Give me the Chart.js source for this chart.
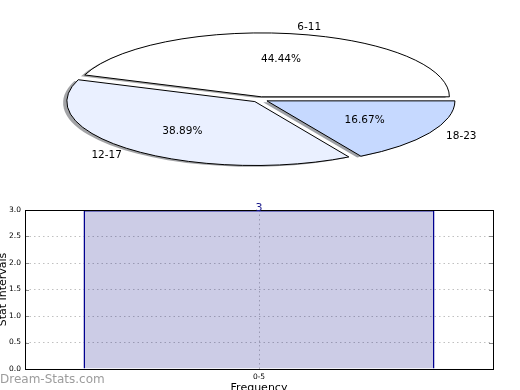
<!DOCTYPE html>
<html>
<head>
<meta charset="utf-8">
<script src="https://cdn.jsdelivr.net/npm/chart.js@4"></script>
<style>
  html, body { margin: 0; padding: 0; background: #fff; overflow: hidden; width: 520px; height: 390px; }
  #pie { position: absolute; left: 0; top: 0; }
  #bars { position: absolute; left: -10px; top: 190px; }
  #mark { position: absolute; left: 0; top: 372px; font: 12px "DejaVu Sans", sans-serif; color: #9c9c9c; z-index: 2; }
</style>
</head>
<body>
<canvas id="pie" width="520" height="200"></canvas>
<canvas id="bars" width="530" height="215"></canvas>
<div id="mark">Dream-Stats.com</div>
<script>
// pie data
var ageGroups = ["6-11", "12-17", "18-23"];
var ageCounts = [8, 7, 3];

// bar data
var freqLabels = ["0-5"];
var freqValues = [3];

var sliceColors = ["#ffffff", "#eaf0ff", "#c6d9ff"];
var explode = [8, 8, 8];   // pixels, before squashing
var SQUASH = 0.34;          // vertical flattening of the pie
var PIE_Y = 99.5;           // centre line of the flattened pie

function shadowOf(hex) {
    var n = parseInt(hex.slice(1), 16);
    var r = Math.round(((n >> 16) & 255) * 0.3);
    var g = Math.round(((n >> 8) & 255) * 0.3);
    var b = Math.round((n & 255) * 0.3);
    return "rgba(" + r + "," + g + "," + b + ",0.5)";
}

// draws the arcs Chart.js laid out, flattened into an ellipse
var flatPie = {
    id: "flatPie",
    beforeDatasetsDraw: function(chart) {
        var ctx = chart.ctx;
        var arcs = chart.getDatasetMeta(0).data;
        var ds = chart.data.datasets[0];
        var total = ds.data.reduce(function(a, b) { return a + b; }, 0);

        function wedge(arc, dx, dy) {
            ctx.save();
            ctx.translate(0, PIE_Y);
            ctx.scale(1, SQUASH);
            ctx.translate(0, -arc.y);
            ctx.beginPath();
            ctx.moveTo(arc.x + dx, arc.y + dy);
            ctx.arc(arc.x + dx, arc.y + dy, arc.outerRadius, arc.startAngle, arc.endAngle);
            ctx.closePath();
            ctx.restore();
        }

        function shift(i, arc) {
            var mid = (arc.startAngle + arc.endAngle) / 2;
            return [Math.cos(mid) * ds.explode[i], Math.sin(mid) * ds.explode[i]];
        }

        // shadows first, under every slice
        arcs.forEach(function(arc, i) {
            var s = shift(i, arc);
            var off = arc.outerRadius * 0.02;
            wedge(arc, s[0] - off, s[1] + off);
            ctx.fillStyle = shadowOf(ds.backgroundColor[i]);
            ctx.fill();
        });

        arcs.forEach(function(arc, i) {
            var s = shift(i, arc);
            wedge(arc, s[0], s[1]);
            ctx.fillStyle = ds.backgroundColor[i];
            ctx.fill();
            ctx.lineWidth = 1;
            ctx.strokeStyle = "#000";
            ctx.stroke();
        });

        ctx.save();
        ctx.fillStyle = "#000";
        ctx.font = "10.5px 'DejaVu Sans'";
        ctx.textBaseline = "middle";
        arcs.forEach(function(arc, i) {
            var mid = (arc.startAngle + arc.endAngle) / 2;
            var c = Math.cos(mid), s = Math.sin(mid);
            var r = arc.outerRadius, ex = ds.explode[i];

            var d = r * 0.6 + ex;
            ctx.textAlign = "center";
            ctx.fillText((ds.data[i] / total * 100).toFixed(2) + "%", arc.x + c * d, PIE_Y + s * d * SQUASH);

            d = r * 1.1 + ex;
            ctx.textAlign = c > 0 ? "left" : "right";
            ctx.fillText(chart.data.labels[i], arc.x + c * d, PIE_Y + s * d * SQUASH);
        });
        ctx.restore();
        return false;
    }
};

// chart.js goes clockwise, matplotlib went counter clockwise from 3 o'clock
new Chart(document.getElementById("pie"), {
    type: "pie",
    data: {
        labels: ageGroups.slice().reverse(),
        datasets: [{
            data: ageCounts.slice().reverse(),
            backgroundColor: sliceColors.slice().reverse(),
            explode: explode.slice().reverse(),
            borderWidth: 0,
            radius: 188
        }]
    },
    options: {
        responsive: false,
        animation: false,
        events: [],
        rotation: 90,
        plugins: { legend: { display: false }, tooltip: { enabled: false } }
    },
    plugins: [flatPie]
});

// frame, inner tick marks and the value above the bar
var barExtras = {
    id: "barExtras",
    afterDraw: function(chart) {
        var ctx = chart.ctx;
        var a = chart.chartArea;
        var y = chart.scales.y;

        ctx.save();
        ctx.strokeStyle = "#888";
        ctx.lineWidth = 1;
        y.ticks.forEach(function(t) {
            var py = Math.round(y.getPixelForValue(t.value)) + 0.5;
            ctx.beginPath();
            ctx.moveTo(a.left, py); ctx.lineTo(a.left + 4, py);
            ctx.moveTo(a.right, py); ctx.lineTo(a.right - 4, py);
            ctx.stroke();
        });

        ctx.strokeStyle = "#000";
        ctx.strokeRect(Math.round(a.left) + 0.5, Math.round(a.top) + 0.5, Math.round(a.right - a.left), Math.round(a.bottom - a.top));

        var bars = chart.getDatasetMeta(0).data;
        ctx.fillStyle = "#1a1a8c";
        ctx.font = "11px 'DejaVu Sans'";
        ctx.textAlign = "center";
        ctx.textBaseline = "bottom";
        bars.forEach(function(bar, i) {
            ctx.fillText(String(chart.data.datasets[0].data[i]), bar.x, bar.y + 4);
        });
        ctx.restore();
    }
};

new Chart(document.getElementById("bars"), {
    type: "bar",
    data: {
        labels: freqLabels,
        datasets: [{
            data: freqValues,
            backgroundColor: "rgba(0,0,128,0.2)",
            borderColor: "#000090",
            borderWidth: 1.5,
            borderSkipped: "start",
            barPercentage: 0.75,
            categoryPercentage: 1
        }]
    },
    options: {
        responsive: false,
        animation: false,
        events: [],
        layout: { padding: { top: 20, right: 27, left: 0, bottom: 0 } },
        plugins: { legend: { display: false }, tooltip: { enabled: false } },
        scales: {
            x: {
                grid: { offset: false, color: "#c0c0c0", drawTicks: false },
                border: { display: false, dash: [1.5, 3] },
                ticks: { color: "#000", font: { family: "DejaVu Sans", size: 7.5 }, padding: 4 },
                title: { display: true, text: "Frequency", color: "#000", font: { family: "DejaVu Sans", size: 11 }, padding: { top: 0, bottom: 10 } },
                afterFit: function(scale) { scale.height = 36; }
            },
            y: {
                min: 0,
                max: 3,
                grid: { color: "#c0c0c0", drawTicks: false },
                border: { display: false, dash: [1.5, 3] },
                ticks: {
                    stepSize: 0.5,
                    color: "#000",
                    font: { family: "DejaVu Sans", size: 7.5 },
                    padding: 4,
                    callback: function(v) { return v.toFixed(1); }
                },
                title: { display: true, text: "Stat Intervals", color: "#000", font: { family: "DejaVu Sans", size: 11 }, padding: { top: 7, bottom: 0 } },
                afterFit: function(scale) { scale.width = 35; }
            }
        }
    },
    plugins: [barExtras]
});
</script>
</body>
</html>
